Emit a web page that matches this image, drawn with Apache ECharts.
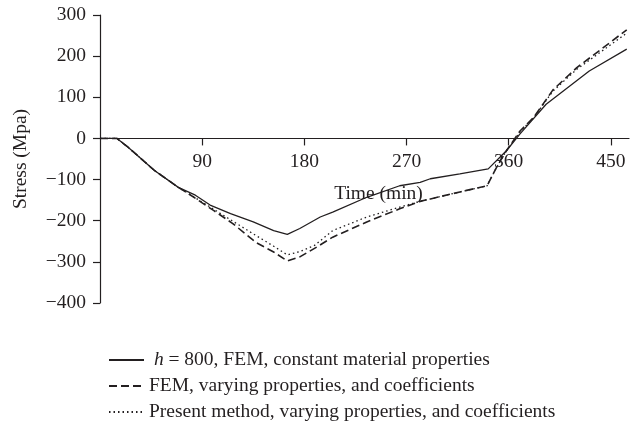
<!DOCTYPE html>
<html>
<head>
<meta charset="utf-8">
<script src="https://cdn.jsdelivr.net/npm/echarts@6/dist/echarts.min.js"></script>
<style>
  html, body { margin: 0; padding: 0; background: #fff; }
  #chart { width: 639px; height: 428px; }
</style>
</head>
<body>
<div id="chart"></div>
<script>
// Stress history at the section (time in minutes, stress in MPa)
const timeConst = [0, 15, 25, 48, 69, 84, 97, 115, 135, 153, 165, 176, 194, 205, 235, 264, 282, 291, 317, 342, 358, 370, 393, 431, 464];
const stressConst = [0, 0, -22, -78, -119, -138, -162, -183, -203, -224, -233, -219, -191, -179, -143, -115, -107, -98, -86, -74, -30, 11, 83, 164, 217];

const timeFem = [0, 15, 25, 48, 69, 75, 100, 117, 138, 153, 165, 176, 191, 205, 235, 264, 282, 317, 341, 349, 358, 370, 382, 399, 420, 443, 464];
const stressFem = [0, 0, -22, -78, -119, -129, -175, -207, -254, -276, -298, -288, -264, -240, -203, -171, -153, -130, -115, -72, -30, 18, 51, 118, 172, 220, 264];

const timePresent = [0, 15, 25, 48, 69, 78, 100, 135, 153, 165, 176, 189, 205, 235, 264, 279, 317, 341, 349, 358, 370, 382, 399, 420, 443, 464];
const stressPresent = [0, 0, -22, -78, -119, -134, -172, -232, -262, -283, -275, -260, -224, -191, -167, -155, -130, -115, -72, -30, 16, 50, 115, 168, 214, 256];

const timeTicks = [90, 180, 270, 360, 450];

const seriesNames = [
  'h = 800, FEM, constant material properties',
  'FEM, varying properties, and coefficients',
  'Present method, varying properties, and coefficients'
];

const pairs = (t, v) => t.map((x, i) => [x, v[i]]);

const FONT = 'Liberation Serif';
const FS = 19.5;
const INK = '#231f20';

// plot area and stress range; the time axis is drawn along the zero-stress line
const GRID = { left: 100, right: 10, top: 15, bottom: 125 };
const Y_MIN = -400, Y_MAX = 300;
const plotHeight = 428 - GRID.top - GRID.bottom;
const zeroOffset = -plotHeight * (0 - Y_MIN) / (Y_MAX - Y_MIN);

const chart = echarts.init(document.getElementById('chart'), null, { renderer: 'canvas' });

chart.setOption({
  animation: false,
  backgroundColor: '#ffffff',
  textStyle: { fontFamily: FONT, color: INK },
  grid: Object.assign({ containLabel: false }, GRID),
  xAxis: {
    type: 'value',
    min: 0,
    max: 466,
    position: 'bottom',
    offset: zeroOffset,
    name: 'Time (min)',
    nameLocation: 'middle',
    nameGap: 45,
    nameTextStyle: { fontFamily: FONT, fontSize: FS, color: INK, padding: [0, 0, 0, 28] },
    axisLine: { show: true, onZero: false, lineStyle: { color: INK, width: 1.2 } },
    axisTick: { show: true, length: 7, inside: false, customValues: timeTicks, lineStyle: { color: INK, width: 1.2 } },
    axisLabel: { customValues: timeTicks, margin: 13, fontFamily: FONT, fontSize: FS, color: INK },
    splitLine: { show: false }
  },
  yAxis: {
    type: 'value',
    min: Y_MIN,
    max: Y_MAX,
    interval: 100,
    name: 'Stress (Mpa)',
    nameLocation: 'middle',
    nameGap: 69,
    nameTextStyle: { fontFamily: FONT, fontSize: FS, color: INK },
    axisLine: { show: true, onZero: false, lineStyle: { color: INK, width: 1.2 } },
    axisTick: { show: true, length: 7, inside: false, lineStyle: { color: INK, width: 1.2 } },
    axisLabel: {
      margin: 14,
      fontFamily: FONT,
      fontSize: FS,
      color: INK,
      formatter: v => (v < 0 ? '\u2212' + Math.abs(v) : String(v))
    },
    splitLine: { show: false }
  },
  legend: {
    orient: 'vertical',
    left: 103,
    top: 345,
    itemWidth: 35,
    itemHeight: 10,
    itemGap: 6,
    itemStyle: { opacity: 0 },
    textStyle: {
      fontFamily: FONT,
      fontSize: FS,
      color: INK,
      rich: {
        it: { fontFamily: FONT, fontSize: FS, fontStyle: 'italic', color: INK },
        tx: { fontFamily: FONT, fontSize: FS, color: INK }
      }
    },
    formatter: name => name.startsWith('h = ')
      ? ' {it|h}{tx|' + name.slice(1) + '}'
      : name,
    data: seriesNames
  },
  series: [
    {
      name: seriesNames[0],
      type: 'line',
      data: pairs(timeConst, stressConst),
      symbol: 'none',
      lineStyle: { color: INK, width: 1.3, type: 'solid' },
      itemStyle: { color: INK },
      z: 3
    },
    {
      name: seriesNames[1],
      type: 'line',
      data: pairs(timeFem, stressFem),
      symbol: 'none',
      lineStyle: { color: INK, width: 1.6, type: [8, 4] },
      itemStyle: { color: INK },
      z: 2
    },
    {
      name: seriesNames[2],
      type: 'line',
      data: pairs(timePresent, stressPresent),
      symbol: 'none',
      lineStyle: { color: INK, width: 1.3, type: [1.5, 3] },
      itemStyle: { color: INK },
      z: 2
    }
  ]
});
</script>
</body>
</html>
